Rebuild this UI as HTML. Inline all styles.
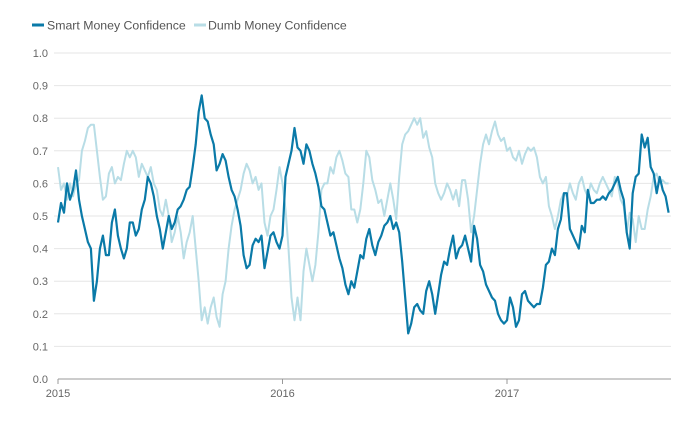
<!DOCTYPE html>
<html><head><meta charset="utf-8"><style>
body{margin:0;background:#fff;font-family:"Liberation Sans",sans-serif;}
svg{display:block}
</style></head><body>
<svg id="chart" width="700" height="421">
<g>
<line x1="32" y1="25" x2="44" y2="25" stroke="#0a7aa8" stroke-width="3"/>
<text x="47" y="29.5" font-size="12.3" fill="#555">Smart Money Confidence</text>
<line x1="194" y1="25" x2="206" y2="25" stroke="#b8dde6" stroke-width="3"/>
<text x="208" y="29.5" font-size="12.3" fill="#555">Dumb Money Confidence</text>
</g>
<g id="grid"></g><g id="series"></g><g id="axes"></g>
</svg>
<script>
const yTicks=[0,0.1,0.2,0.3,0.4,0.5,0.6,0.7,0.8,0.9,1.0];
const yearTicks=[2015,2016,2017];
const startYear=2015.0;
const stepYears=1/75;
const smartMoney=[.48,.54,.51,.60,.55,.58,.64,.55,.50,.46,.42,.40,.24,.30,.40,.44,.38,.38,.48,.52,.44,.40,.37,.40,.48,.48,.44,.46,.52,.55,.62,.60,.56,.50,.46,.40,.45,.50,.46,.48,.52,.53,.55,.58,.59,.65,.72,.82,.87,.80,.79,.75,.72,.64,.66,.69,.67,.62,.58,.56,.52,.47,.38,.34,.35,.41,.43,.42,.44,.34,.39,.44,.45,.42,.40,.44,.62,.66,.70,.77,.71,.70,.66,.72,.70,.66,.63,.59,.53,.52,.48,.44,.45,.41,.37,.34,.29,.26,.30,.28,.33,.38,.37,.43,.46,.41,.38,.42,.44,.47,.48,.50,.46,.48,.45,.36,.25,.14,.17,.22,.23,.21,.20,.27,.30,.26,.20,.26,.32,.36,.35,.40,.44,.37,.40,.41,.44,.40,.36,.47,.43,.35,.33,.29,.27,.25,.24,.20,.18,.17,.18,.25,.22,.16,.18,.26,.27,.24,.23,.22,.23,.23,.28,.35,.36,.40,.38,.46,.49,.57,.57,.46,.44,.42,.40,.47,.45,.58,.54,.54,.55,.55,.56,.55,.57,.58,.60,.62,.58,.55,.45,.40,.57,.62,.63,.75,.71,.74,.65,.63,.57,.62,.58,.56,.51];
const dumbMoney=[.65,.58,.60,.55,.60,.56,.60,.61,.70,.73,.77,.78,.78,.70,.62,.55,.56,.63,.65,.60,.62,.61,.66,.70,.68,.70,.68,.62,.66,.64,.62,.65,.60,.58,.52,.50,.55,.50,.42,.45,.50,.45,.37,.42,.45,.50,.40,.30,.18,.22,.17,.22,.25,.19,.16,.26,.30,.40,.47,.52,.55,.58,.63,.66,.64,.60,.62,.58,.60,.48,.44,.50,.52,.58,.65,.60,.52,.40,.25,.18,.25,.18,.33,.40,.35,.30,.35,.45,.58,.60,.60,.65,.63,.68,.70,.67,.63,.62,.52,.52,.48,.52,.60,.70,.68,.61,.58,.54,.55,.50,.55,.60,.55,.49,.62,.72,.75,.76,.78,.80,.78,.80,.74,.76,.71,.68,.60,.57,.55,.57,.60,.58,.55,.58,.53,.61,.61,.55,.45,.50,.58,.66,.72,.75,.72,.76,.79,.75,.73,.74,.70,.71,.68,.67,.70,.66,.69,.71,.70,.71,.68,.62,.60,.62,.53,.50,.46,.50,.55,.57,.56,.60,.57,.55,.60,.62,.58,.56,.60,.58,.57,.60,.62,.60,.58,.56,.62,.60,.55,.53,.45,.51,.49,.42,.50,.46,.46,.52,.56,.62,.63,.60,.61,.60,.60];

const NS='http://www.w3.org/2000/svg';
const X0=58,X1=671,Y0=379,YSCALE=326;
const xOf=t=>X0+(t-2015)*224.5;
const yOf=v=>Y0-v*YSCALE;
function mk(tag,attrs,parent){const e=document.createElementNS(NS,tag);for(const k in attrs)e.setAttribute(k,attrs[k]);parent.appendChild(e);return e;}
const grid=document.getElementById('grid'),axes=document.getElementById('axes'),series=document.getElementById('series');
yTicks.forEach(v=>{
  if(v>0){const l=mk('line',{x1:X0-4,x2:X1,y1:yOf(v),y2:yOf(v),stroke:'#e6e6e6','stroke-width':1},grid);
  
  }
  const t=mk('text',{x:48,y:yOf(v)+4,'font-size':11,fill:'#666','text-anchor':'end'},axes);
  t.textContent=v.toFixed(1);
  
  
});
const base=mk('line',{x1:X0,x2:X1,y1:Y0,y2:Y0,stroke:'#999','stroke-width':1},axes);


yearTicks.forEach(y=>{
  const tk=mk('line',{x1:xOf(y),x2:xOf(y),y1:Y0,y2:Y0+5,stroke:'#999'},axes);
  
  
  const t=mk('text',{x:xOf(y),y:397,'font-size':11,fill:'#666','text-anchor':'middle'},axes);
  t.textContent=y;
  
  
});
function line(vals,color,w,name){
  const d=vals.map((v,i)=>(i?'L':'M')+xOf(startYear+i*stepYears).toFixed(1)+','+yOf(v).toFixed(1)).join('');
  const p=mk('path',{d:d,fill:'none',stroke:color,'stroke-width':w,'stroke-linejoin':'round'},series);
  
  
}
line(dumbMoney,'#b8dde6',2,'dumb-money-line');
line(smartMoney,'#0a7aa8',2.2,'smart-money-line');
</script>
</body></html>
